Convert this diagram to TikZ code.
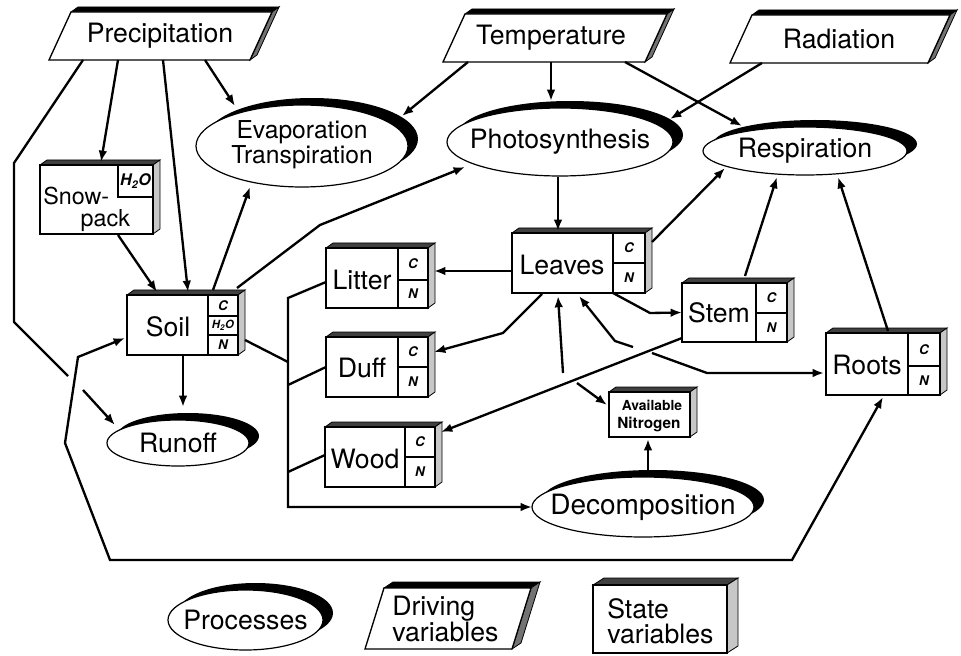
\documentclass[tikz,border=0pt]{standalone}
\usepackage{fontspec}
\setmainfont{TeX Gyre Heros}
\usetikzlibrary{arrows.meta,calc,shapes.geometric}

\tikzset{
  tipa/.tip={Latex[length=8.5pt,width=6.5pt]},
  conn/.style={line width=1.75pt, -tipa},
  rconn/.style={line width=1.75pt, tipa-},
  dconn/.style={line width=1.75pt, tipa-tipa},
  plain/.style={line width=1.75pt},
  face/.style={draw, fill=white, line width=1pt},
  stnode/.style={draw, fill=white, line width=1pt, rectangle, inner sep=0pt, outer sep=0pt},
  procnode/.style={draw, fill=white, ellipse, line width=0.9pt, inner sep=0pt, outer sep=0pt, font=\fontsize{20}{22}\selectfont},
  lab/.style={font=\fontsize{20}{22}\selectfont, inner sep=0pt},
  cell/.style={font=\fontsize{10}{11}\selectfont\bfseries\itshape, inner sep=0pt},
  sttop/.style={fill=black!75, draw=black, line width=0.6pt},
  stside/.style={fill=black!22, draw=black, line width=0.6pt},
  dvtop/.style={fill=black, draw=black, line width=0.6pt},
  dvside/.style={fill=black!55, draw=black, line width=0.6pt},
}

% depth of a state box: x1 y1 x2 y2 dx dy
\newcommand\stdepth[6]{%
  \filldraw[sttop] (#1,#2) -- ({#1+#5},{#2+#6}) -- ({#3+#5},{#2+#6}) -- (#3,#2) -- cycle;
  \filldraw[stside] (#3,#2) -- ({#3+#5},{#2+#6}) -- ({#3+#5},{#4+#6}) -- (#3,#4) -- cycle;
}
% state box with C / N compartments: name x1 y1 x2 y2 colx splity
\newcommand\stbox[7]{%
  \stdepth{#2}{#3}{#4}{#5}{7}{-5}
  \node[stnode, minimum width={(#4-#2)*0.75pt}, minimum height={(#5-#3)*0.75pt}] (#1) at ({(#2+#4)/2},{(#3+#5)/2}) {};
  \draw[line width=1pt] (#6,#3) -- (#6,#5) (#6,#7) -- (#4,#7);
  \node[cell] (#1C) at ({(#6+#4)/2},{(#3+#7)/2}) {C};
  \node[cell] (#1N) at ({(#6+#4)/2},{(#7+#5)/2}) {N};
}
% process ellipse with crescent: name cx cy rx ry text
\newcommand\procell[6]{%
  \fill[black] ({#2+10},{#3-7}) ellipse [x radius=#4, y radius=#5];
  \node[procnode, minimum width={2*#4*0.75pt}, minimum height={2*#5*0.75pt}] (#1) at (#2,#3) {\makebox[0pt]{#6}};
}
% driving variable parallelogram: a b w s h dx dy
\newcommand\dvshape[7]{%
  \filldraw[dvtop] ({#1+#4},{#2-#5}) -- ({#1+#4+#3},{#2-#5}) -- ({#1+#4+#3+#6},{#2-#5+#7}) -- ({#1+#4+#6},{#2-#5+#7}) -- cycle;
  \filldraw[dvside] ({#1+#3},#2) -- ({#1+#3+#4},{#2-#5}) -- ({#1+#3+#4+#6},{#2-#5+#7}) -- ({#1+#3+#6},{#2+#7}) -- cycle;
  \filldraw[face] (#1,#2) -- ({#1+#3},#2) -- ({#1+#3+#4},{#2-#5}) -- ({#1+#4},{#2-#5}) -- cycle;
}

\begin{document}
\begin{tikzpicture}[x=0.75pt,y=-0.75pt]
\useasboundingbox (0,0) rectangle (961,656);

% ---------- driving variables ----------
\dvshape{49}{60}{201}{22}{48}{7}{-5}
\node[lab] (precip) at (160,36) {Precipitation};
\dvshape{443}{62}{202}{22}{48}{7}{-5}
\node[lab] (temp) at (551,38) {Temperature};
\dvshape{730}{63}{198}{22}{48}{7}{-5}
\node[lab] (rad) at (839,39) {Radiation};

% ---------- processes ----------
\procell{evap}{302}{146}{106}{41}{\fontsize{18.5}{19}\selectfont\begin{tabular}{@{}c@{}}Evaporation\\Transpiration\end{tabular}}
\procell{photo}{560}{142}{113}{34}{Photosynthesis}
\procell{resp}{805}{151}{102}{24}{Respiration}
\procell{runoff}{178}{443}{71}{23}{Runoff}
\procell{decomp}{643}{507}{111}{30}{\fontsize{21}{22}\selectfont Decomposition}

% ---------- state variables ----------
% Snowpack
\stdepth{40}{165}{153}{234}{7}{-5}
\node[stnode, minimum width={113*0.75pt}, minimum height={69*0.75pt}] (snow) at (96.5,199.5) {};
\draw[line width=1pt] (118,165) -- (118,197) -- (153,197);
\node[inner sep=0pt, font=\fontsize{12}{13}\selectfont\bfseries\itshape] (snowH) at (135.5,181) {H\textsubscript{2}O};
\node[inner sep=0pt, font=\fontsize{17.5}{16.5}\selectfont, align=left, anchor=west] (snowL) at (43,209) {Snow-\\\hspace*{1.6em}pack};

% Soil
\stdepth{127}{295}{238}{355}{7}{-5}
\node[stnode, minimum width={111*0.75pt}, minimum height={60*0.75pt}] (soil) at (182.5,325) {};
\draw[line width=1pt] (208,295) -- (208,355) (208,316) -- (238,316) (208,335) -- (238,335);
\node[cell] (soilC) at (223,305.5) {C};
\node[cell, font=\fontsize{8.5}{9}\selectfont\bfseries\itshape] (soilH) at (223,325.5) {H\textsubscript{2}O};
\node[cell] (soilN) at (223,345) {N};
\node[lab] (soilL) at (168,327) {Soil};

\stbox{litter}{326}{248}{428}{308}{398}{280}
\node[lab] (litterL) at (362,280) {Litter};
\stbox{duff}{326}{337}{428}{397}{398}{367}
\node[lab] (duffL) at (362,368) {Duff};
\stbox{wood}{325}{427}{435}{487}{405}{457}
\node[lab] (woodL) at (365,459) {Wood};
\stbox{leaves}{512}{233}{645}{293}{613}{263}
\node[lab] (leavesL) at (562,265) {Leaves};
\stbox{stem}{682}{283}{787}{342}{756}{313}
\node[lab] (stemL) at (719,313) {Stem};
\stbox{roots}{826}{333}{940}{395}{908}{366}
\node[lab] (rootsL) at (867,365) {Roots};

% Available nitrogen
\stdepth{609}{392}{690}{437}{7}{-5}
\node[stnode, minimum width={81*0.75pt}, minimum height={45*0.75pt}] (availN) at (649.5,414.5) {};
\node[inner sep=0pt, font=\fontsize{10.4}{11}\selectfont\bfseries] (availL1) at (652,405) {Available};
\node[inner sep=0pt, font=\fontsize{11.5}{12}\selectfont\bfseries] (availL2) at (649,424) {Nitrogen};

% ---------- legend ----------
\procell{legproc}{245.5}{620}{77.5}{30}{Processes}
\dvshape{365}{649}{147}{19}{61}{9}{-6}
\node[lab, font=\fontsize{20}{20}\selectfont, align=left, anchor=west] (legdv) at (392,619) {Driving\\variables};
\stdepth{593}{585}{727}{653}{11}{-7}
\node[stnode, minimum width={134*0.75pt}, minimum height={68*0.75pt}] (legst) at (660,619) {};
\node[lab, font=\fontsize{20}{19}\selectfont, align=left, anchor=west] (legstL) at (607,621) {State\\variables};

% ---------- junction coordinates ----------
\coordinate (pj1) at (68,376);
\coordinate (pj2) at (83,390);
\coordinate (bt) at (288,298);
\coordinate (bb) at (288,507);
\coordinate (j1) at (288,362);
\coordinate (j2) at (288,385);
\coordinate (j3) at (288,472);
\coordinate (ga1) at (563,373);
\coordinate (ga2) at (577,383);
\coordinate (gb1) at (633,347);
\coordinate (gb2) at (652,353);

% ---------- connectors ----------
\draw[conn] ($(precip)+(-42,24)$) -- ($(snow.north)+(4.5,-3)$);
\draw[conn] ($(precip)+(3,24)$) -- ($(soil.north west)+(61,-3)$);
\draw[conn] ($(precip)+(45,24)$) -- ($(evap)+(-67,-40)$);
\draw[plain] ($(precip)+(-77,24)$) -- (14,163) -- (14,322) -- (pj1);
\draw[conn] (pj2) -- ($(runoff)+(-63,-18)$);

\draw[conn] ($(snow.south west)+(78,1)$) -- ($(soil.north west)+(30,-3)$);
\draw[conn] ($(soil.north west)+(86,-5)$) -- ($(evap)+(-52,41)$);
\draw[conn] ($(soil.north east)+(-1,-7)$) -- (320,225) -- ($(photo)+(-95,25)$);
\draw[conn] ($(soil.south west)+(56,0)$) -- ($(runoff)+(5,-36)$);

\draw[plain] ($(soil.south east)+(7,-15)$) -- (j1);
\draw[conn] ($(litter.south west)+(0,-26)$) -- (bt) -- (bb) -- (decomp.west);
\draw[plain] ($(duff.south west)+(0,-30)$) -- (j2);
\draw[plain] ($(wood.south west)+(0,-32)$) -- (j3);

\draw[conn] ($(temp)+(-83,24)$) -- ($(evap)+(100,-30)$);
\draw[conn] ($(temp)+(0,24)$) -- ($(photo)+(-9,-41)$);
\draw[conn] ($(temp)+(74,24)$) -- ($(resp)+(-63,-25)$);
\draw[conn] ($(rad)+(-77,24)$) -- ($(photo)+(110,-23)$);

\draw[conn] ($(photo)+(-2,35)$) -- ($(leaves.north west)+(46,-2)$);
\draw[conn] ($(leaves.south west)+(0,-22)$) -- ($(litter.north east)+(6,23)$);
\draw[conn] ($(leaves.south west)+(30,1)$) -- (503,333) -- ($(duff.north east)+(6,15)$);
\draw[rconn] ($(leaves.south west)+(46,3)$) -- (ga1);
\draw[conn] (ga2) -- ($(availN.north west)+(-2,13)$);
\draw[rconn] ($(leaves.south west)+(67,3)$) -- (615,341) -- (gb1);
\draw[conn] (gb2) -- (707,373) -- ($(roots.south west)+(-2,-22)$);
\draw[conn] ($(leaves.south west)+(101,0)$) -- (650,313) -- (stem.west);
\draw[conn] ($(stem.south west)+(0,-4)$) -- ($(wood.north east)+(6,5)$);
\draw[conn] ($(leaves.north east)+(7,9)$) -- ($(resp)+(-80,17)$);
\draw[conn] ($(stem.north west)+(63,-7)$) -- ($(resp)+(-28,26)$);
\draw[conn] ($(roots.north west)+(62,-2)$) -- ($(resp)+(33,26)$);
\draw[conn] ($(decomp)+(5,-37)$) -- ($(availN.south)+(-1.5,2)$);
\draw[dconn] ($(soil.south west)+(-2,-17)$) -- (78,357) -- (65,443) -- (110,560) -- (792,560) -- ($(roots.south west)+(57,2)$);
\end{tikzpicture}
\end{document}
